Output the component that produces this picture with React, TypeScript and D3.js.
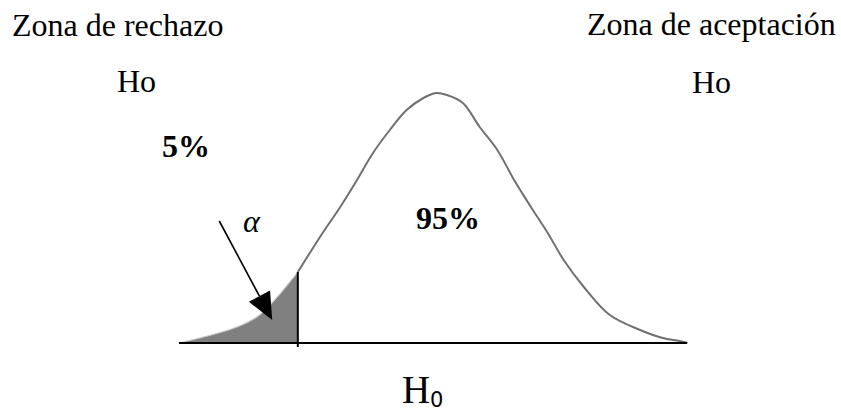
import React from 'react';
import { scaleLinear, line, area, curveCatmullRom } from 'd3';

// curve: z (std units) and relative height
const zValues = [-3.06, -2.81, -2.37, -2.1, -1.645, -1.35, -1.14, -0.94, -0.75, -0.55, -0.35, -0.15, 0, 0.13, 0.32, 0.52, 0.73, 0.93, 1.13, 1.33, 1.52, 1.76, 2.07, 2.43, 2.7, 2.9, 2.99];
const heights = [0, 0.02, 0.064, 0.112, 0.284, 0.44, 0.544, 0.652, 0.76, 0.852, 0.932, 0.98, 1, 0.992, 0.96, 0.864, 0.772, 0.652, 0.544, 0.44, 0.332, 0.224, 0.112, 0.052, 0.02, 0.008, 0];
const cutoff = -1.645;
const arrowFrom = [-2.58, 0.488];
const arrowTo = [-1.95, 0.092];

const topLabels = ['Zona de rechazo', 'Zona de aceptación'];
const hoLabel = 'Ho';
const alphaPct = '5%';
const acceptPct = '95%';

const points = zValues.map((z, i) => ({ z, h: heights[i] }));

function App() {
  const width = 841;
  const height = 411;

  const x = scaleLinear().domain([-3, 3]).range([184, 688]);
  const y = scaleLinear().domain([0, 1]).range([343, 93]);

  const curve = line<{ z: number; h: number }>()
    .x(d => x(d.z))
    .y(d => y(d.h))
    .curve(curveCatmullRom);

  const tailPts = points.filter(d => d.z <= cutoff);
  const bodyPts = points.filter(d => d.z >= cutoff);

  const shade = area<{ z: number; h: number }>()
    .x(d => x(d.z))
    .y0(y(0))
    .y1(d => y(d.h))
    .curve(curveCatmullRom);

  const cutH = heights[zValues.indexOf(cutoff)];

  // arrow
  const x1 = x(arrowFrom[0]), y1 = y(arrowFrom[1]);
  const x2 = x(arrowTo[0]), y2 = y(arrowTo[1]);
  const len = Math.hypot(x2 - x1, y2 - y1);
  const ux = (x2 - x1) / len, uy = (y2 - y1) / len;
  const headL = 27, headW = 12;
  const bx = x2 - ux * headL, by = y2 - uy * headL;
  const head = `${x2},${y2} ${bx - uy * headW},${by + ux * headW} ${bx + uy * headW},${by - ux * headW}`;

  const serif = '"Liberation Serif", "Times New Roman", serif';

  return (
    <svg width={width} height={height} style={{ position: 'absolute', left: 0, top: 0, background: '#fff' }}>
      <path d={shade(tailPts) || ''} fill="#808080" />
      <path d={curve(tailPts) || ''} fill="none" stroke="#c8c8c8" strokeWidth={1.2} />
      <path d={curve(bodyPts) || ''} fill="none" stroke="#707070" strokeWidth={2} />
      <line x1={x(zValues[0])} x2={x(zValues[zValues.length - 1])} y1={y(0)} y2={y(0)} stroke="#000" strokeWidth={2} />
      <line x1={x(cutoff)} x2={x(cutoff)} y1={y(cutH)} y2={y(0) + 4} stroke="#000" strokeWidth={2} />
      <line x1={x1} y1={y1} x2={bx} y2={by} stroke="#000" strokeWidth={1.6} />
      <polygon points={head} fill="#000" />

      <g fontFamily={serif} fontSize={32} fill="#000">
        <text x={12} y={36}>{topLabels[0]}</text>
        <text x={587} y={35}>{topLabels[1]}</text>
        <text x={117} y={92}>{hoLabel}</text>
        <text x={692} y={93}>{hoLabel}</text>
        <text x={162} y={157} fontWeight="bold">{alphaPct}</text>
        <text x={416} y={229} fontWeight="bold">{acceptPct}</text>
        <text x={243} y={232} fontSize={32} fontStyle="italic">α</text>
        <text x={402} y={403} fontSize={39}>H</text>
        <text x={430} y={407} fontSize={21} fontFamily='"DejaVu Sans", sans-serif'>0</text>
      </g>
    </svg>
  );
}

export default App;
